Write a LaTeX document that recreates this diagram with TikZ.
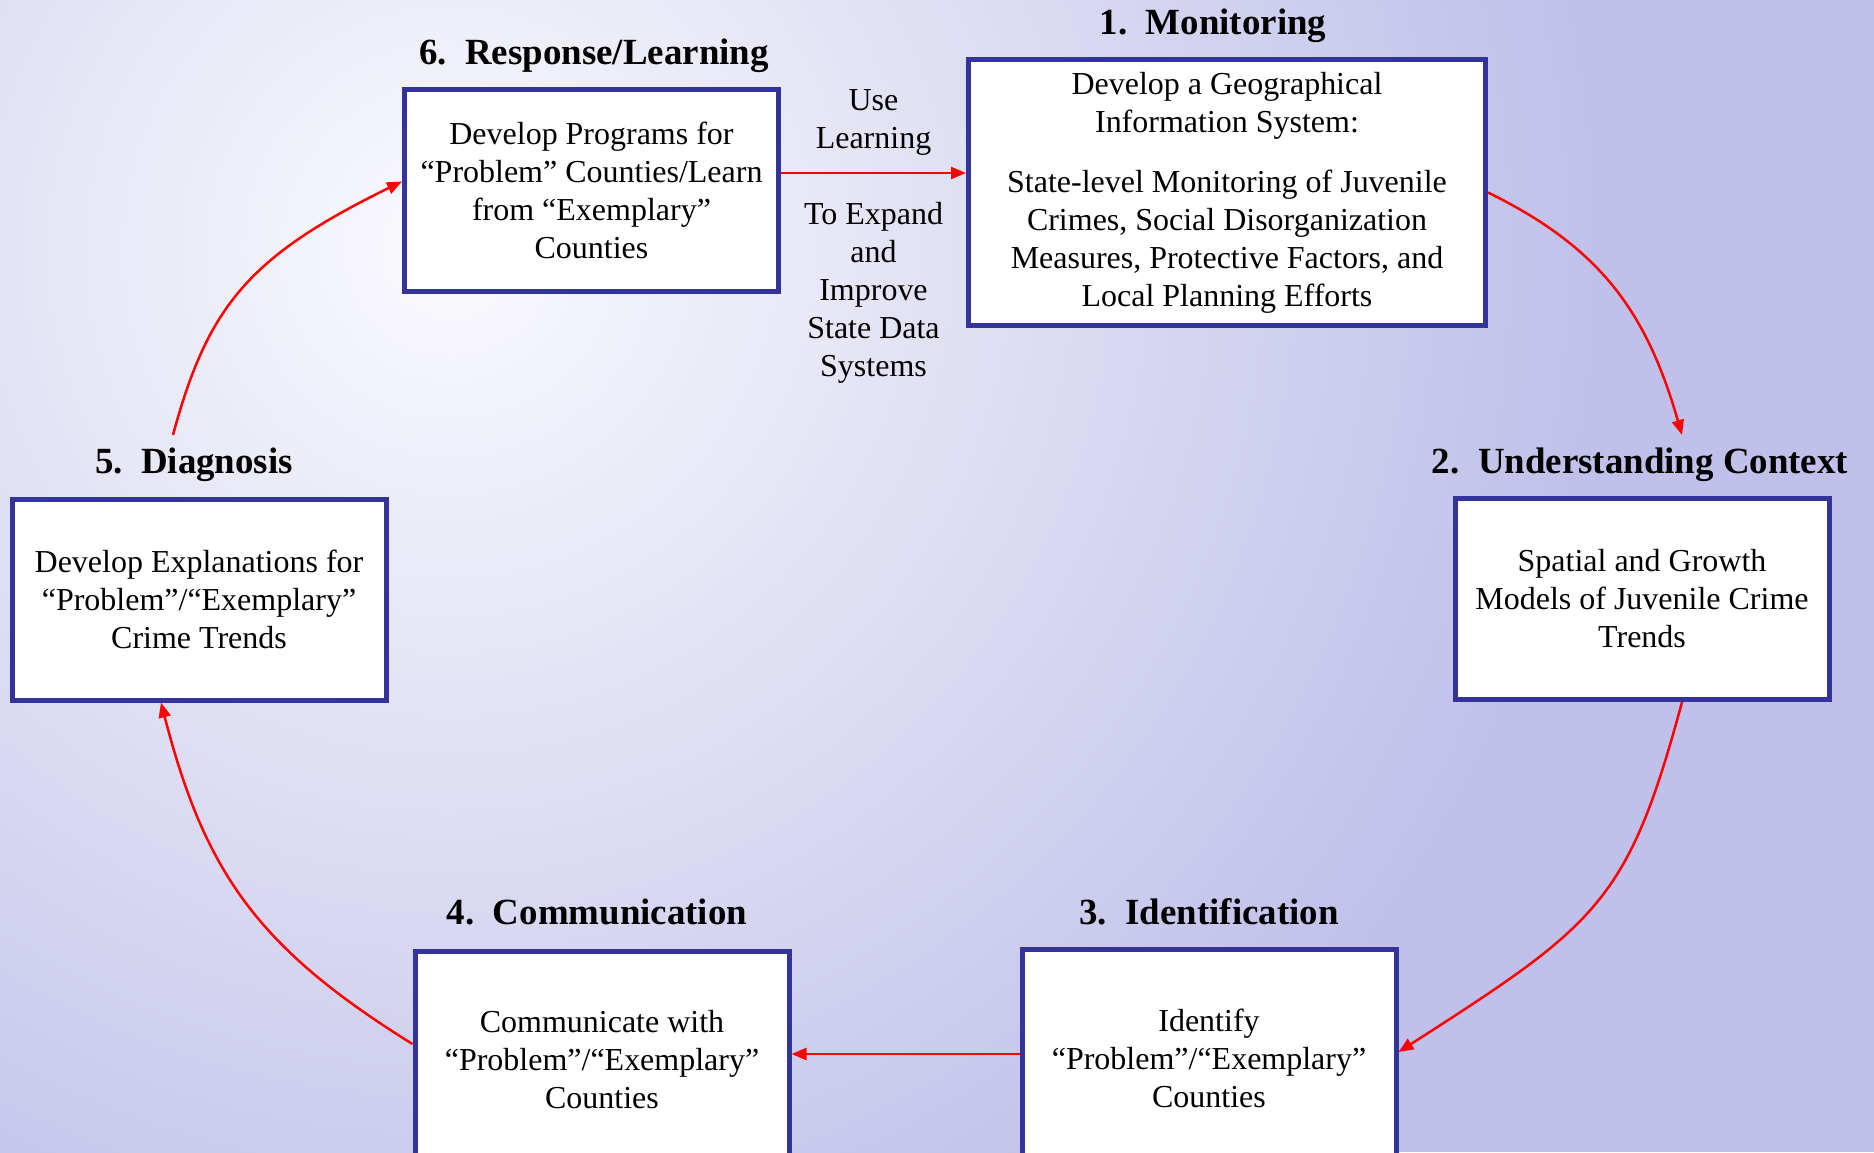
\documentclass[tikz,border=0pt]{standalone}
\usepackage{fontspec}
\setmainfont{Liberation Serif}
\usepackage{xcolor}
\usetikzlibrary{arrows.meta,positioning}
\definecolor{boxblue}{RGB}{51,51,153}
\definecolor{bglav}{RGB}{192,192,234}
\definecolor{bgwhite}{RGB}{250,250,253}

\begin{document}
\begin{tikzpicture}[
  box/.style={draw=boxblue, line width=0.05cm, fill=white, minimum width=3.74cm, minimum height=2.01cm, inner sep=0pt, align=center, font=\fontsize{9.1}{10.8}\selectfont},
  title/.style={anchor=base, font=\fontsize{10.5}{12.6}\selectfont\bfseries},
  lbl/.style={align=center, inner sep=0pt, text=black, font=\fontsize{9.1}{10.8}\selectfont},
  flow/.style={red, line width=0.025cm, -{Triangle[length=0.15cm, width=0.12cm]}}]
  \useasboundingbox (0,0) rectangle (18.74,-11.52);
  \clip (0,0) rectangle (18.74,-11.52);
  % background
  \fill[bglav] (0,0) rectangle (18.74,-11.52);
  \shade[inner color=bgwhite, outer color=bglav] (4.5,-2.5) circle (11.5);
  % the six steps
  \node[box] (b6) at (5.915,-1.905) {Develop Programs for\\“Problem” Counties/Learn\\from “Exemplary”\\Counties};
  \node[box, minimum width=5.17cm, minimum height=2.66cm] (b1) at (12.27,-1.925) {Develop a Geographical\\Information System:\\[6.3pt]State-level Monitoring of Juvenile\\Crimes, Social Disorganization\\Measures, Protective Factors, and\\Local Planning Efforts};
  \node[box] (b2) at (16.42,-5.99) {Spatial and Growth\\Models of Juvenile Crime\\Trends};
  \node[box, minimum height=2.17cm] (b3) at (12.09,-10.58) {Identify\\“Problem”/“Exemplary”\\Counties};
  \node[box, minimum height=2.17cm] (b4) at (6.02,-10.60) {Communicate with\\“Problem”/“Exemplary”\\Counties};
  \node[box] (b5) at (1.99,-5.995) {Develop Explanations for\\“Problem”/“Exemplary”\\Crime Trends};
  % titles
  \node[title] (t6) at (5.94,-0.65) {6.~~Response/Learning};
  \node[title] (t1) at (12.13,-0.35) {1.~~Monitoring};
  \node[title] (t2) at (16.40,-4.73) {2.~~Understanding Context};
  \node[title] (t3) at (12.09,-9.24) {3.~~Identification};
  \node[title] (t4) at (5.97,-9.24) {4.~~Communication};
  \node[title] (t5) at (1.94,-4.73) {5.~~Diagnosis};
  % 6 -> 1
  \coordinate (top6) at ([yshift=0.175cm]b6.east);
  \draw[flow] (top6) -- (top6 -| b1.west)
    node[lbl, midway, above=0.16cm] (uselbl) {Use\\Learning}
    node[lbl, midway, below=0.28cm] (expandlbl) {To Expand\\and\\Improve\\State Data\\Systems};
  % 1 -> 2 -> 3
  \draw[flow] (b1.east) .. controls (15.99,-2.47) and (16.46,-3.10) .. ([xshift=0.42cm]t2.north);
  \draw[flow] ([xshift=0.40cm]b2.south) .. controls (16.28,-9.02) and (15.98,-9.24) .. ([yshift=0.06cm]b3.east);
  % 3 -> 4 -> 5
  \coordinate (left3) at ([yshift=0.04cm]b3.west);
  \draw[flow] (left3) -- (left3 -| b4.east);
  \draw[flow] ([yshift=0.16cm]b4.west) .. controls (2.58,-9.48) and (2.05,-8.73) .. ([xshift=-0.38cm]b5.south);
  % 5 -> 6
  \draw[flow] ([xshift=-0.21cm]t5.north) .. controls (2.08,-3.05) and (2.50,-2.56) .. ([yshift=0.09cm]b6.west);
\end{tikzpicture}
\end{document}
